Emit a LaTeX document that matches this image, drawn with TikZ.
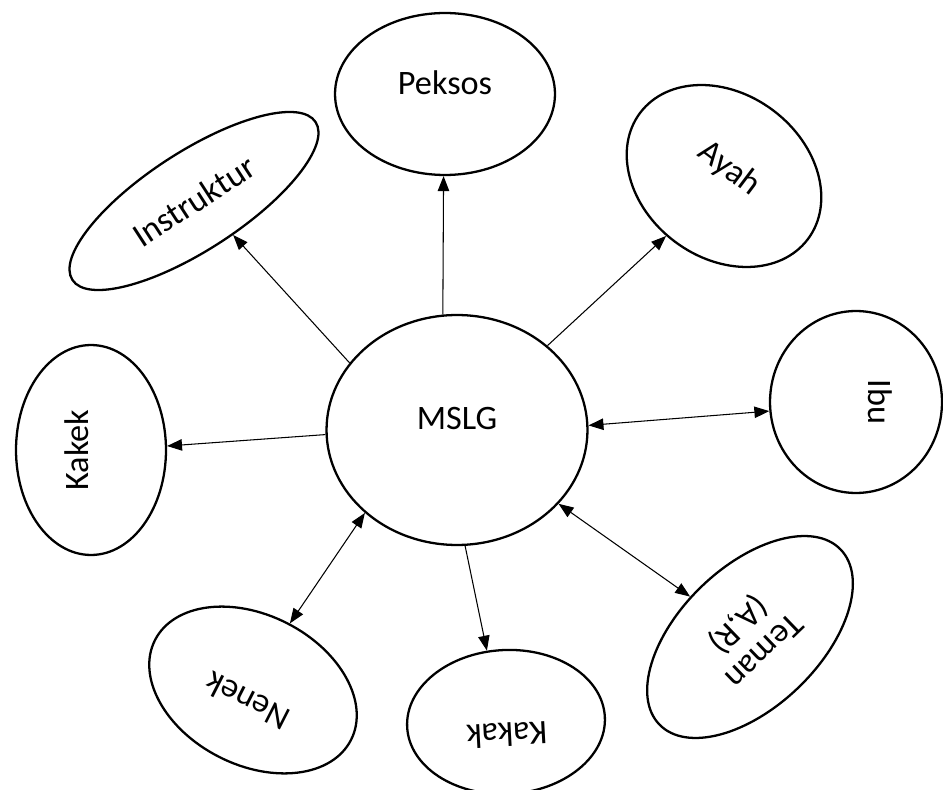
\documentclass[tikz,border=0pt]{standalone}
\usepackage{fontspec}
\setmainfont{Carlito}
\usepackage{tikz}
\usetikzlibrary{arrows.meta}
\usetikzlibrary{shapes.geometric}

% lifts a label inside its oval, the oval stays put
\newcommand{\lift}[2]{\raisebox{#1}[\height][\depth]{#2}}

\begin{document}
\begin{tikzpicture}[x=0.02cm, y=-0.02cm,
  oval/.style={ellipse, draw, line width=1.3pt, inner sep=0pt,
    font=\fontsize{19.5}{21}\selectfont},
  link/.style={line width=0.6pt, -{Triangle[length=8.5pt,width=6.5pt]}},
  both/.style={line width=0.6pt, {Triangle[length=8.5pt,width=6.5pt]}-{Triangle[length=8.5pt,width=6.5pt]}}]
\useasboundingbox (0,0) rectangle (943,790);
% draws the centre
\node[oval, minimum width=5.22cm, minimum height=4.6cm] (mslg) at (457,430) {\lift{0.24cm}{MSLG}};
% draws the others
\node[oval, minimum width=4.4cm, minimum height=3.24cm] (peksos) at (445,94) {\lift{0.22cm}{Peksos}};
\node[oval, minimum width=5.8cm, minimum height=1.96cm, rotate=33] (instruktur) at (194,201) {Instruktur};
\node[oval, minimum width=4.2cm, minimum height=3.28cm, rotate=-37] (ayah) at (724,176) {\lift{0.18cm}{Ayah}};
\node[oval, minimum width=3.64cm, minimum height=3.44cm, rotate=-90] (ibu) at (856,402) {\lift{0.48cm}{Ibu}};
\node[oval, minimum width=4.2cm, minimum height=3cm, rotate=90] (kakek) at (91,450) {\lift{0.28cm}{Kakek}};
\node[oval, minimum width=4.4cm, minimum height=3cm, rotate=153] (nenek) at (253,690) {\lift{0.25cm}{Nenek}};
\node[oval, minimum width=3.96cm, minimum height=2.88cm, rotate=183] (kakak) at (506,722) {\lift{0.26cm}{Kakak}};
\node[oval, minimum width=5.04cm, minimum height=2.8cm, rotate=224, align=center] (teman) at (750,637) {Teman\\(A,R)};
% draws edges
\draw[link] (mslg.97) to (peksos.269);
\draw[link] (mslg.148) to (instruktur.286);
\draw[link] (mslg.43) to (ayah.263);
\draw[both] (mslg.2) to (ibu.276);
\draw[link] (mslg.182) to (kakek.273);
\draw[both] (mslg.222) to (nenek.268);
\draw[link] (mslg.274) to (kakak.282);
\draw[both] (mslg.324) to (teman.282);
\end{tikzpicture}
\end{document}
